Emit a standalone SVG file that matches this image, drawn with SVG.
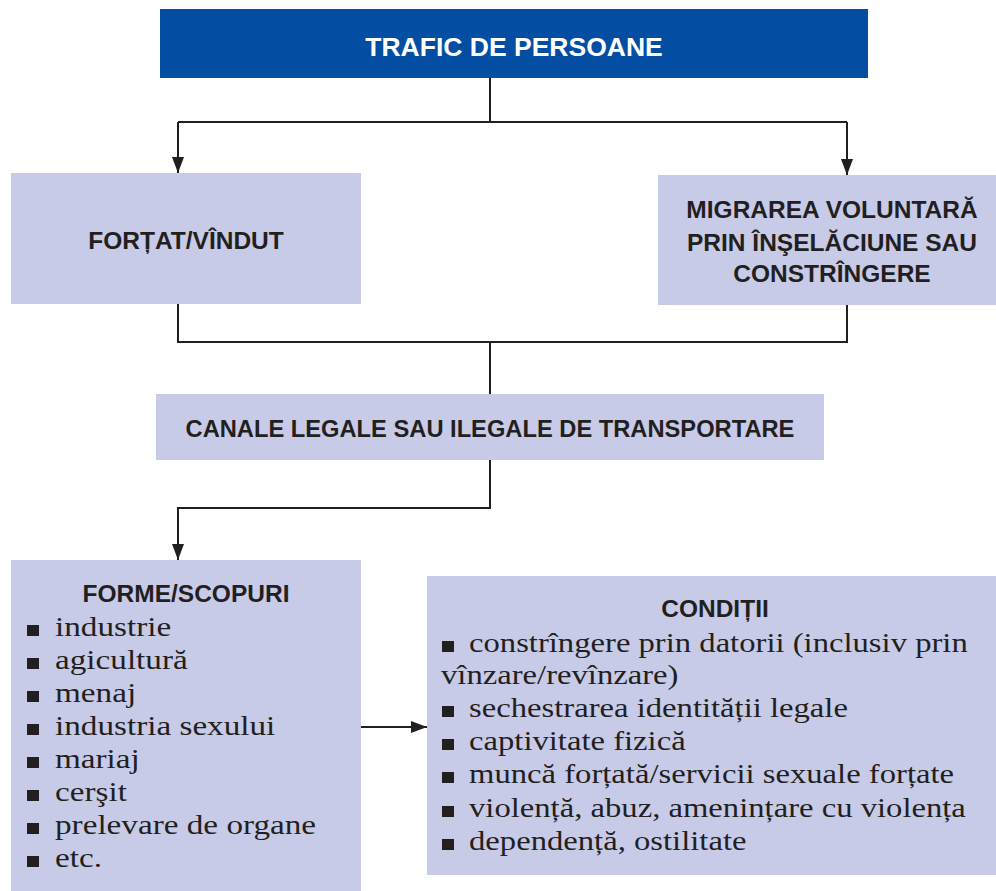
<svg xmlns="http://www.w3.org/2000/svg" width="996" height="891" viewBox="0 0 996 891">
<defs>
<style>
.box{fill:#c8cbe8;}
.hd{font-family:"Liberation Sans",Arial,sans-serif;font-weight:bold;font-size:24.5px;fill:#231f20;text-anchor:middle;}
.it{font-family:"Liberation Serif","Times New Roman",serif;font-size:27px;fill:#231f20;}
.bl{fill:#231f20;}
.ln{fill:none;stroke:#231f20;stroke-width:2;}
</style>
<marker id="arr" viewBox="0 0 16 12" refX="16" refY="6" markerWidth="16" markerHeight="12" orient="auto" markerUnits="userSpaceOnUse"><path d="M0,0 L16,6 L0,12 z" fill="#231f20"/></marker>
</defs>
<rect width="996" height="891" fill="#ffffff"/>
<g id="connectors">
<path class="ln" d="M490,78 V122"/>
<path class="ln" d="M178,122 H847"/>
<path class="ln" d="M178,122 V173" marker-end="url(#arr)"/>
<path class="ln" d="M847,122 V175" marker-end="url(#arr)"/>
<path class="ln" d="M178,304 V342 H847 V305"/>
<path class="ln" d="M490,342 V394"/>
<path class="ln" d="M490,460 V508 H178 V560" marker-end="url(#arr)"/>
<path class="ln" d="M361,727 H427" marker-end="url(#arr)"/>
</g>
<g id="trafic">
<rect x="160" y="9" width="708" height="69" fill="#034ea2"/>
<text x="514" y="56" class="hd" style="font-size:26.5px;fill:#ffffff">TRAFIC DE PERSOANE</text>
</g>
<g id="fortat">
<rect class="box" x="11" y="173" width="350" height="131"/>
<text x="186" y="249" class="hd">FORȚAT/VÎNDUT</text>
</g>
<g id="migrarea">
<rect class="box" x="658" y="175" width="338" height="130"/>
<text x="832" y="218" class="hd">MIGRAREA VOLUNTARĂ</text>
<text x="832" y="251" class="hd">PRIN ÎNŞELĂCIUNE SAU</text>
<text x="832" y="282" class="hd">CONSTRÎNGERE</text>
</g>
<g id="canale">
<rect class="box" x="156" y="394" width="668" height="66"/>
<text x="490" y="437" class="hd" style="font-size:23.7px">CANALE LEGALE SAU ILEGALE DE TRANSPORTARE</text>
</g>
<g id="forme">
<rect class="box" x="11" y="560" width="350" height="331"/>
<text x="186" y="602" class="hd">FORME/SCOPURI</text>
<rect class="bl" x="27" y="625" width="12" height="11"/><text transform="translate(55,636) scale(1.23,1)" class="it">industrie</text>
<rect class="bl" x="27" y="658" width="12" height="11"/><text transform="translate(55,669) scale(1.23,1)" class="it">agicultură</text>
<rect class="bl" x="27" y="691" width="12" height="11"/><text transform="translate(55,702) scale(1.23,1)" class="it">menaj</text>
<rect class="bl" x="27" y="724" width="12" height="11"/><text transform="translate(55,735) scale(1.23,1)" class="it">industria sexului</text>
<rect class="bl" x="27" y="757" width="12" height="11"/><text transform="translate(55,768) scale(1.23,1)" class="it">mariaj</text>
<rect class="bl" x="27" y="790" width="12" height="11"/><text transform="translate(55,801) scale(1.23,1)" class="it">cerşit</text>
<rect class="bl" x="27" y="823" width="12" height="11"/><text transform="translate(55,834) scale(1.23,1)" class="it">prelevare de organe</text>
<rect class="bl" x="27" y="856" width="12" height="11"/><text transform="translate(55,867) scale(1.23,1)" class="it">etc.</text>
</g>
<g id="conditii">
<rect class="box" x="427" y="576" width="569" height="299"/>
<text x="715" y="617" class="hd">CONDIȚII</text>
<rect class="bl" x="442" y="641" width="12" height="11"/><text transform="translate(469,652) scale(1.21,1)" class="it">constrîngere prin datorii (inclusiv prin</text>
<text transform="translate(441,684) scale(1.21,1)" class="it">vînzare/revînzare)</text>
<rect class="bl" x="442" y="706" width="12" height="11"/><text transform="translate(469,717) scale(1.21,1)" class="it">sechestrarea identității legale</text>
<rect class="bl" x="442" y="739" width="12" height="11"/><text transform="translate(469,750) scale(1.21,1)" class="it">captivitate fizică</text>
<rect class="bl" x="442" y="772" width="12" height="11"/><text transform="translate(469,783) scale(1.21,1)" class="it">muncă forțată/servicii sexuale forțate</text>
<rect class="bl" x="442" y="806" width="12" height="11"/><text transform="translate(469,817) scale(1.21,1)" class="it">violență, abuz, amenințare cu violența</text>
<rect class="bl" x="442" y="839" width="12" height="11"/><text transform="translate(469,850) scale(1.21,1)" class="it">dependență, ostilitate</text>
</g>
</svg>
